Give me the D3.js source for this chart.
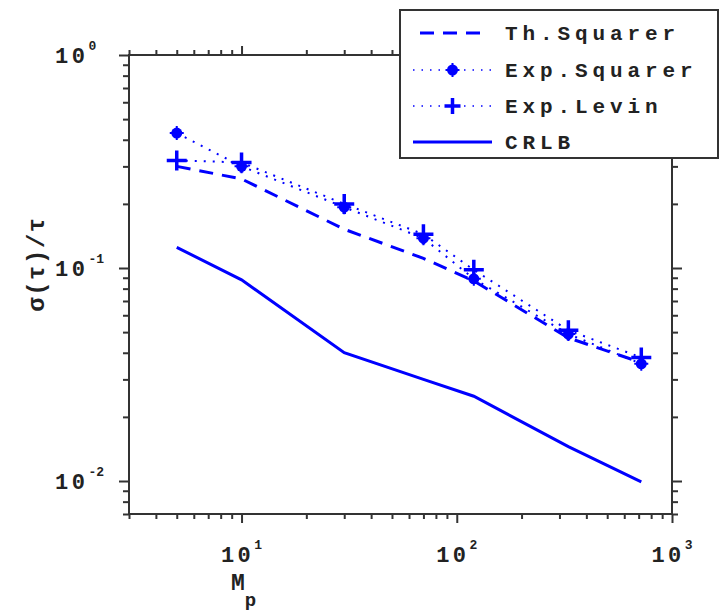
<!DOCTYPE html>
<html><head><meta charset="utf-8">
<script src="https://cdn.jsdelivr.net/npm/d3@7"></script>
<style>body{margin:0;background:#fff}svg{display:block}</style>
</head><body><svg id="c" width="720" height="614"></svg>
<script>
const mp = [5, 10, 30, 70, 120, 330, 720];
const thSquarer = [0.30, 0.262, 0.152, 0.111, 0.087, 0.047, 0.036];
const expSquarer = [0.43, 0.30, 0.193, 0.138, 0.089, 0.049, 0.0355];
const expLevin = [0.32, 0.313, 0.20, 0.144, 0.098, 0.051, 0.038];
const crlb = [0.125, 0.088, 0.040, 0.030, 0.025, 0.0145, 0.0099];
const xMajor = [10, 100, 1000];
const xMajorLabels = [["10","1"],["10","2"],["10","3"]];
const yMajor = [1, 0.1, 0.01];
const yMajorLabels = [["10","0"],["10","-1"],["10","-2"]];
const legendNames = ["Th.Squarer","Exp.Squarer","Exp.Levin","CRLB"];

const BLUE = "#0000ff", AX = "#333";
const FONT = "'Liberation Mono', monospace";
const svg = d3.select("#c");
const L=129,R=672,T=55,B=514;
const x = d3.scaleLog().domain([3,1000]).range([L,R]);
const y = d3.scaleLog().domain([0.007,1]).range([B,T]);

const xMinor=[], yMinor=[];
[1,10,100].forEach(d=>{for(let k=2;k<=9;k++){const v=d*k; if(v>=3&&v<1000) xMinor.push(v);} });
[0.001,0.01,0.1].forEach(d=>{for(let k=2;k<=9;k++){const v=+(d*k).toPrecision(3); if(v>=0.007&&v<1) yMinor.push(v);} });

function styleAxis(g){g.select(".domain").remove();g.selectAll("line").attr("stroke",AX).attr("stroke-width",2);g.selectAll("text").remove();}
svg.append("g").attr("transform",`translate(0,${B})`).call(d3.axisBottom(x).tickValues(xMinor).tickSize(5)).call(styleAxis);
svg.append("g").attr("transform",`translate(0,${B})`).call(d3.axisBottom(x).tickValues(xMajor).tickSize(9)).call(styleAxis);
svg.append("g").attr("transform",`translate(0,${T})`).call(d3.axisTop(x).tickValues(xMinor).tickSize(5)).call(styleAxis);
svg.append("g").attr("transform",`translate(0,${T})`).call(d3.axisTop(x).tickValues(xMajor).tickSize(9)).call(styleAxis);
svg.append("g").attr("transform",`translate(${L},0)`).call(d3.axisLeft(y).tickValues(yMinor).tickSize(6)).call(styleAxis);
svg.append("g").attr("transform",`translate(${L},0)`).call(d3.axisLeft(y).tickValues(yMajor).tickSize(10)).call(styleAxis);
svg.append("g").attr("transform",`translate(${R},0)`).call(d3.axisRight(y).tickValues(yMinor).tickSize(6)).call(styleAxis);
svg.append("g").attr("transform",`translate(${R},0)`).call(d3.axisRight(y).tickValues(yMajor).tickSize(10)).call(styleAxis);
svg.append("rect").attr("x",L).attr("y",T).attr("width",R-L).attr("height",B-T).attr("fill","none").attr("stroke",AX).attr("stroke-width",2);

// tick labels
xMajor.forEach((v,i)=>{
  const t=svg.append("text").attr("x",x(v)).attr("y",B+48).attr("text-anchor","middle")
    .attr("font-family",FONT).attr("font-weight","bold").attr("font-size",22).attr("letter-spacing",3.5).attr("fill","#222");
  t.append("tspan").text(xMajorLabels[i][0]);
  t.append("tspan").attr("dy",-13).attr("font-size",13).attr("letter-spacing",0).text(xMajorLabels[i][1]);
});
yMajor.forEach((v,i)=>{
  const t=svg.append("text").attr("x",55).attr("y",y(v)+8).attr("text-anchor","start")
    .attr("font-family",FONT).attr("font-weight","bold").attr("font-size",22).attr("letter-spacing",3.5).attr("fill","#222");
  t.append("tspan").text(yMajorLabels[i][0]);
  t.append("tspan").attr("dy",-13).attr("font-size",13).attr("letter-spacing",0).text(yMajorLabels[i][1]);
});
// axis titles
const xt=svg.append("text").attr("x",231).attr("y",590)
  .attr("font-family",FONT).attr("font-weight","bold").attr("font-size",23).attr("fill","#222");
xt.append("tspan").text("M");
xt.append("tspan").attr("dy",16).attr("font-size",19).text("p");
svg.append("text").attr("transform","translate(44,264) rotate(-90)").attr("text-anchor","middle")
  .attr("font-family",FONT).attr("font-weight","bold").attr("font-size",24).attr("letter-spacing",1.5).attr("fill","#222")
  .text("σ(τ)/τ");

// lines
const pts = arr => mp.map((m,i)=>[m,arr[i]]);
const line = d3.line().x(d=>x(d[0])).y(d=>y(d[1]));
svg.append("path").attr("d",line(pts(crlb))).attr("fill","none").attr("stroke",BLUE).attr("stroke-width",3);
svg.append("path").attr("d",line(pts(thSquarer))).attr("fill","none").attr("stroke",BLUE).attr("stroke-width",3).attr("stroke-dasharray","14,9");
svg.append("path").attr("d",line(pts(expSquarer))).attr("fill","none").attr("stroke",BLUE).attr("stroke-width",2).attr("stroke-dasharray","2,7");
svg.append("path").attr("d",line(pts(expLevin))).attr("fill","none").attr("stroke",BLUE).attr("stroke-width",2).attr("stroke-dasharray","2,7");

function star(g,cx,cy){
  g.append("circle").attr("cx",cx).attr("cy",cy).attr("r",5.5).attr("fill",BLUE);
  g.append("path").attr("d",`M${cx-7},${cy}H${cx+7}M${cx},${cy-7}V${cy+7}`).attr("stroke",BLUE).attr("stroke-width",2);
}
function plus(g,cx,cy,s){
  g.append("path").attr("d",`M${cx-s},${cy}H${cx+s}M${cx},${cy-s}V${cy+s}`).attr("stroke",BLUE).attr("stroke-width",3.5);
}
const mk=svg.append("g");
pts(expSquarer).forEach(d=>star(mk,x(d[0]),y(d[1])));
pts(expLevin).forEach(d=>plus(mk,x(d[0]),y(d[1]),10));

// legend
const lg=svg.append("g");
lg.append("rect").attr("x",400).attr("y",10).attr("width",318).attr("height",148).attr("fill","#fff").attr("stroke",AX).attr("stroke-width",2);
const rows=[33,70,106,142];
const x1=413,x2=492;
lg.append("line").attr("x1",x1+7).attr("x2",x2-4).attr("y1",rows[0]).attr("y2",rows[0]).attr("stroke",BLUE).attr("stroke-width",3).attr("stroke-dasharray","14,9");
lg.append("line").attr("x1",x1).attr("x2",x2).attr("y1",rows[1]).attr("y2",rows[1]).attr("stroke",BLUE).attr("stroke-width",1.5).attr("stroke-dasharray","1.5,7");
star(lg,(x1+x2)/2,rows[1]);
lg.append("line").attr("x1",x1).attr("x2",x2).attr("y1",rows[2]).attr("y2",rows[2]).attr("stroke",BLUE).attr("stroke-width",1.5).attr("stroke-dasharray","1.5,7");
plus(lg,(x1+x2)/2,rows[2],8);
lg.append("line").attr("x1",x1).attr("x2",x2).attr("y1",rows[3]).attr("y2",rows[3]).attr("stroke",BLUE).attr("stroke-width",3);
legendNames.forEach((n,i)=>{
  lg.append("text").attr("x",505).attr("y",rows[i]+7).attr("font-family",FONT).attr("font-weight","bold")
    .attr("font-size",21).attr("letter-spacing",4.9).attr("fill","#222").text(n);
});
</script></body></html>
